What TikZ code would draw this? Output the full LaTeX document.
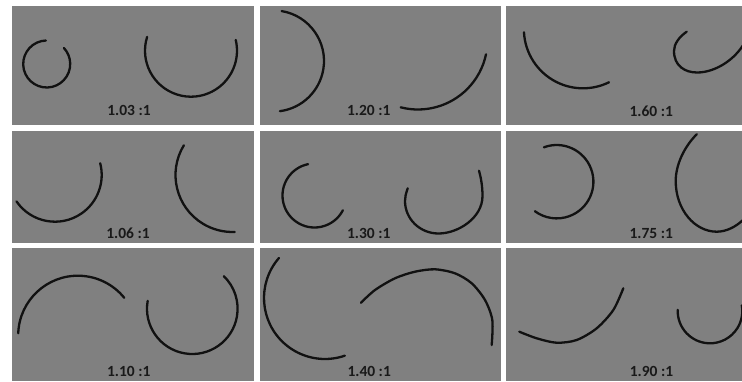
\documentclass[tikz,border=0pt]{standalone}
\usepackage{fontspec}
\setmainfont{Carlito}
\definecolor{panelgray}{RGB}{128,128,128}
\definecolor{curvecol}{RGB}{17,17,17}
\definecolor{labelcol}{RGB}{25,25,25}
\begin{document}
\begin{tikzpicture}[x=1pt,y=-1pt,
  panelbox/.style={fill=panelgray},
  curve/.style={line width=2.3pt, draw=curvecol, line cap=round},
  ratio/.style={font=\fontsize{15.5}{17}\selectfont\bfseries, text=labelcol, inner sep=0pt}]
\useasboundingbox (0,0) rectangle (742,381);
\fill[white] (0,0) rectangle (742,381);
% panels
\fill[panelbox] (12,6) rectangle (254,125);
\fill[panelbox] (260,6) rectangle (501,125);
\fill[panelbox] (506,6) rectangle (742,125);
\fill[panelbox] (12,131) rectangle (254,243);
\fill[panelbox] (260,131) rectangle (501,243);
\fill[panelbox] (506,131) rectangle (742,243);
\fill[panelbox] (12,248) rectangle (254,381);
\fill[panelbox] (260,248) rectangle (501,381);
\fill[panelbox] (506,248) rectangle (742,381);

% panel 1.03
\begin{scope}
\clip (12,6) rectangle (254,125);
\draw[curve] (46.7,64) ++(-92:23.5) arc[start angle=-92, end angle=-403, radius=23.5];
\draw[curve] (191,50.7) ++(-162.5:46) arc[start angle=-162.5, end angle=-373.5, radius=46];
\node[ratio] (r103) at (129,110.5) {1.03 :1};
\end{scope}

% panel 1.20
\begin{scope}
\clip (260,6) rectangle (501,125);
\draw[curve] (273.4,61) ++(-80.6:50.6) arc[start angle=-80.6, end angle=82.6, radius=50.6];
\draw[curve] (418,40) ++(-255.6:69.5) arc[start angle=-255.6, end angle=-348.1, radius=69.5];
\node[ratio] (r120) at (368.8,110.5) {1.20 :1};
\end{scope}

% panel 1.60
\begin{scope}
\clip (506,6) rectangle (742,125);
\draw[curve] (583,29.2) ++(-183:59.1) arc[start angle=-183, end angle=-296.1, radius=59.1];
\draw[curve] (686.7,31.7) .. controls (679,37) and (674,44) .. (674,51)
  .. controls (674,66) and (685,72.5) .. (697,72.5)
  .. controls (715,72.5) and (735,60) .. (745,42);
\node[ratio] (r160) at (651.2,111) {1.60 :1};
\end{scope}

% panel 1.06
\begin{scope}
\clip (12,131) rectangle (254,243);
\draw[curve] (55,175) ++(-214.4:46.7) arc[start angle=-214.4, end angle=-374.6, radius=46.7];
\draw[curve] (232.5,175) ++(-148.6:57) arc[start angle=-148.6, end angle=-272.3, radius=57];
\node[ratio] (r106) at (128,233.7) {1.06 :1};
\end{scope}

% panel 1.30
\begin{scope}
\clip (260,131) rectangle (501,243);
\draw[curve] (314.5,195.5) ++(-101.5:32) arc[start angle=-101.5, end angle=-332.5, radius=32];
\draw[curve] (407.7,188.3) .. controls (405.8,194) and (405,197) .. (405,201)
  .. controls (405,219) and (420,233.5) .. (438.5,233.5)
  .. controls (458,233.5) and (482.5,218) .. (482.5,196)
  .. controls (482.5,186) and (481,178) .. (479,170.7);
\node[ratio] (r130) at (368.8,233.7) {1.30 :1};
\end{scope}

% panel 1.75
\begin{scope}
\clip (506,131) rectangle (742,243);
\draw[curve] (556.7,181.7) ++(-110.4:36.7) arc[start angle=-110.4, end angle=126.5, radius=36.7];
\draw[curve] (696.7,134.3) .. controls (684,147) and (675.7,165) .. (675.7,181)
  .. controls (675.7,210) and (695,231.7) .. (716.7,231.7)
  .. controls (726,231.7) and (736,227) .. (744,219);
\node[ratio] (r175) at (651.2,233.7) {1.75 :1};
\end{scope}

% panel 1.10
\begin{scope}
\clip (12,248) rectangle (254,381);
\draw[curve] (77.9,335.4) ++(-178:59.7) arc[start angle=-178, end angle=-39.1, radius=59.7];
\draw[curve] (192.3,308.7) ++(-170:45.3) arc[start angle=-170, end angle=-405.9, radius=45.3];
\node[ratio] (r110) at (128.8,371.3) {1.10 :1};
\end{scope}

% panel 1.40
\begin{scope}
\clip (260,248) rectangle (501,381);
\draw[curve] (325,298) ++(-139:61) arc[start angle=-139, end angle=-289, radius=61];
\draw[curve] plot[smooth] coordinates {(361,302.7) (375,290) (395,278.3) (415,271.7) (435,269.3) (455,273.3) (471.7,283.3) (485,300) (492.3,320) (491.7,345)};
\node[ratio] (r140) at (369.2,371.3) {1.40 :1};
\end{scope}

% panel 1.90
\begin{scope}
\clip (506,248) rectangle (742,381);
\draw[curve] plot[smooth] coordinates {(519.3,331.7) (536.7,338.3) (556.7,342.7) (576.7,340) (596.7,328.3) (613.3,310) (623.3,288.3)};
\draw[curve] (710,311) ++(-178:32.3) arc[start angle=-178, end angle=-370, radius=32.3];
\node[ratio] (r190) at (651.5,371.3) {1.90 :1};
\end{scope}
\end{tikzpicture}
\end{document}
